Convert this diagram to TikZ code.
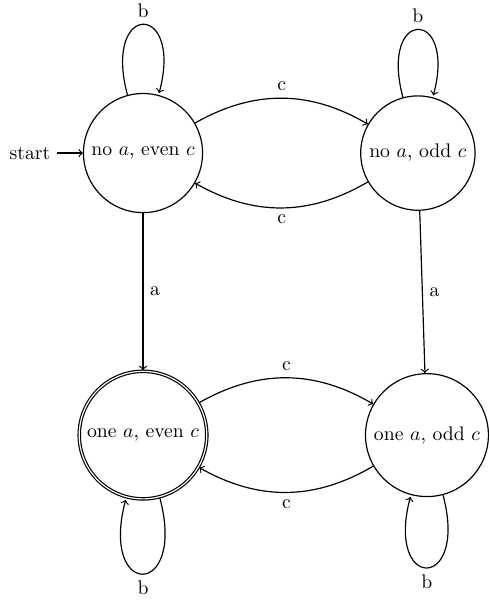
\documentclass[tikz,border=0pt]{standalone}
\usetikzlibrary{automata,positioning}
\begin{document}
\begin{tikzpicture}[->,>=to,auto,node distance=2.8cm,semithick,line join=round]
	\useasboundingbox (-72.6pt,-227.9pt) rectangle (176.1pt,77.7pt);
	\node[state,initial] (q0) {no $a$, even $c$};
	\node[state] (q1) [right=of q0] {no $a$, odd $c$};
	\node[state,accepting] (q2) [below=of q0] {one $a$, even $c$};
	\node[state] (q3) [right=of q2] {one $a$, odd $c$};
	\foreach \s/\t/\o/\l in
	{ q0/q1/bend left/c,
		q1/q0/bend left/c,
		q2/q3/bend left/c,
		q3/q2/bend left/c,
		q0/q2/{}/a,
		q1/q3/{}/a
	}
	\path (\s) edge[\o] node {\l} (\t);
	\foreach \s/\o in {q0/loop above,q1/loop above,q2/loop below,q3/loop below}
	\path (\s) edge[\o] node {b} ();
\end{tikzpicture}
\end{document}
